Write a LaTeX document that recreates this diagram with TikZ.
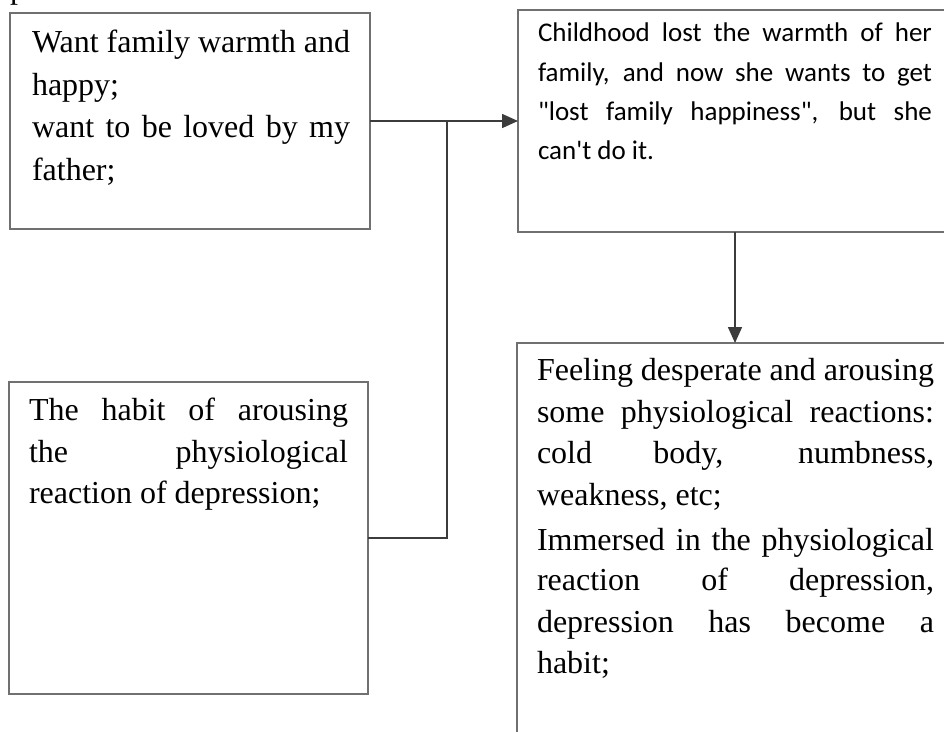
\documentclass[tikz,border=0pt]{standalone}
\usepackage{fontspec}
\setmainfont{Liberation Serif}
\newfontfamily\calfont{Carlito}[Ligatures=TeXOff]
\usetikzlibrary{arrows.meta}
\definecolor{boxgray}{HTML}{707070}
\definecolor{linegray}{HTML}{3C3C3C}
\tikzset{
  box/.style={draw=boxgray, line width=1.5pt, inner sep=0pt, outer sep=0pt, anchor=north west},
  txt/.style={anchor=base west, inner sep=0pt, outer sep=0pt, font=\fontsize{32}{38}\selectfont},
  ctxt/.style={anchor=base west, inner sep=0pt, outer sep=0pt, font=\calfont\fontsize{27}{32}\selectfont},
  conn/.style={draw=linegray, line width=1.6pt},
  arr/.style={conn, -{Triangle[length=16pt,width=14pt]}}
}
\newcommand{\jline}[2]{\makebox[#1pt][s]{#2}}
\begin{document}
\begin{tikzpicture}[x=1pt,y=-1pt]
\useasboundingbox (0,0) rectangle (944,731);
\clip (0,0) rectangle (944,731);

% stray glyph at the top edge
\node[txt] (top) at (10,-2) {p};

% boxes
\node[box, minimum width=360pt, minimum height=216pt] (A) at (10,13) {};
\node[box, minimum width=434pt, minimum height=222pt] (B) at (518,10) {};
\node[box, minimum width=359pt, minimum height=312pt] (C) at (9,382) {};
\node[box, minimum width=436pt, minimum height=420pt] (D) at (517,343) {};

% texts of box A
\node[txt] (a1) at (32,52)  {\jline{318}{Want family warmth and}};
\node[txt] (a2) at (32,95)  {happy;};
\node[txt] (a3) at (32,137) {\jline{318}{want to be loved by my}};
\node[txt] (a4) at (32,180) {father;};

% texts of box B
\node[ctxt] (b1) at (538,41)  {\jline{394}{Childhood lost the warmth of her}};
\node[ctxt] (b2) at (538,81)  {\jline{394}{family, and now she wants to get}};
\node[ctxt] (b3) at (538,120) {\jline{394}{"lost family happiness", but she}};
\node[ctxt] (b4) at (538,159) {can't do it.};

% texts of box C
\node[txt] (c1) at (29,420) {\jline{319}{The habit of arousing}};
\node[txt] (c2) at (29,462) {\jline{319}{the physiological}};
\node[txt] (c3) at (29,503) {reaction of depression;};

% texts of box D
\node[txt] (d1) at (537,380) {\jline{397}{Feeling desperate and arousing}};
\node[txt] (d2) at (537,422) {\jline{397}{some physiological reactions:}};
\node[txt] (d3) at (537,463) {\jline{397}{cold body, numbness,}};
\node[txt] (d4) at (537,505) {weakness, etc;};
\node[txt] (d5) at (537,550) {\jline{397}{Immersed in the physiological}};
\node[txt] (d6) at (537,590) {\jline{397}{reaction of depression,}};
\node[txt] (d7) at (537,632) {\jline{397}{depression has become a}};
\node[txt] (d8) at (537,673) {habit;};

% connectors
\coordinate (j) at (447,121);
\draw[arr] (A.east) -- (B.west);
\draw[conn] (j) |- (C.east);
\draw[arr] (B.south) -- (D.north);
\end{tikzpicture}
\end{document}
